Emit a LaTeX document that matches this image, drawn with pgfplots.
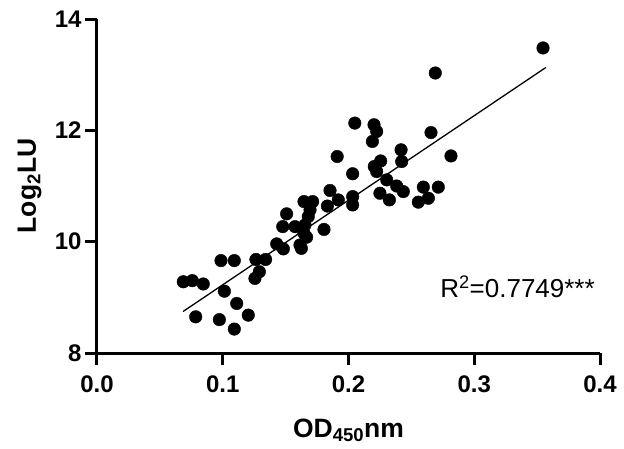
\documentclass[border=0pt]{standalone}
\usepackage{fontspec}
\setmainfont{Liberation Sans}
\usepackage{pgfplots}
\usepackage{pgfplotstable}
\pgfplotsset{compat=1.18}
\pgfplotstableread{
x y
0.0686 9.28
0.0758 9.30
0.0845 9.24
0.0785 8.65
0.0986 9.66
0.1092 9.66
0.1013 9.11
0.0973 8.60
0.1111 8.89
0.1092 8.43
0.1203 8.68
0.1264 9.68
0.1341 9.68
0.1291 9.46
0.1256 9.34
0.1429 9.96
0.1482 9.87
0.1477 10.27
0.1508 10.50
0.1575 10.27
0.1614 9.94
0.1625 9.88
0.1646 10.15
0.1667 10.08
0.1654 10.30
0.1680 10.45
0.1694 10.57
0.1646 10.72
0.1715 10.72
0.1805 10.22
0.1832 10.64
0.1853 10.92
0.1919 10.75
0.1910 11.53
0.2033 11.22
0.2033 10.81
0.2033 10.66
0.2050 12.13
0.2203 12.10
0.2224 11.98
0.2190 11.80
0.2256 11.45
0.2205 11.35
0.2224 11.26
0.2304 11.11
0.2250 10.87
0.2325 10.75
0.2383 11.00
0.2436 10.90
0.2418 11.65
0.2423 11.44
0.2555 10.71
0.2595 10.98
0.2635 10.78
0.2714 10.98
0.2656 11.96
0.2815 11.54
0.2690 13.03
0.3547 13.48
}\scatterdata
\begin{document}
\begin{tikzpicture}
\path[use as bounding box] (0,0) rectangle (624pt,448pt);
\begin{axis}[
  at={(97pt,95pt)}, anchor=south west,
  scale only axis, width=503pt, height=334pt,
  xmin=0, xmax=0.4, ymin=8, ymax=14,
  axis x line*=bottom, axis y line*=left,
  axis line style={line width=3pt, black, -},
  xtick={0,0.1,0.2,0.3,0.4}, ytick={8,10,12,14},
  tick align=outside, major tick length=12pt,
  tick style={line width=3pt, black},
  /pgf/number format/assume math mode=true,
  xticklabel style={font=\fontsize{24}{24}\selectfont\bfseries, yshift=-7pt,
    /pgf/number format/fixed, /pgf/number format/fixed zerofill,
    /pgf/number format/precision=1},
  yticklabel style={font=\fontsize{24}{24}\selectfont\bfseries},
  xlabel={OD\textsubscript{450}nm},
  ylabel={Log\textsubscript{2}LU},
  xlabel style={at={(axis description cs:0.5,-0.2515)}, anchor=base,
    font=\fontsize{26.5}{27}\selectfont\bfseries},
  ylabel style={at={(axis description cs:-0.1213,0.5)}, anchor=base,
    font=\fontsize{26.5}{27}\selectfont\bfseries},
  clip=false,
]
\addplot[only marks, mark=*, mark size=6.3pt, black] table[x=x, y=y] {\scatterdata};
\addplot[line width=1.3pt, black] coordinates {(0.0684,8.745) (0.357,13.13)};
\node[anchor=base, font=\fontsize{26}{26}\selectfont] at (axis cs:0.3344,8.99) {R\textsuperscript{2}=0.7749***};
\end{axis}
\end{tikzpicture}
\end{document}
